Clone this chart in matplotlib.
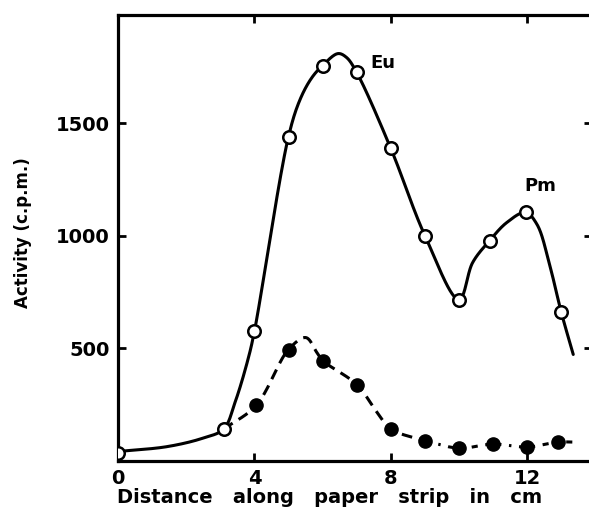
import numpy as np
import matplotlib
matplotlib.use("Agg")
import matplotlib.pyplot as plt

# ---- data ----
# Eu / Pm measured points (open circles)
open_x = [0, 3.1, 4, 5, 6, 7, 8, 9, 10, 10.9, 11.95, 13]
open_y = [33, 140, 575, 1442, 1758, 1727, 1389, 1001, 716, 979, 1104, 659]
# hand-drawn solid curve
solid_x = [0, 1.45, 2.5, 3.1, 3.43, 3.81, 4, 5, 5.34, 5.68, 6, 6.45, 6.7, 7,
           8, 9, 10, 10.4, 10.9, 11.4, 11.95, 12.29, 12.67, 13, 13.35]
solid_y = [40, 62, 100, 140, 258, 449, 575, 1442, 1607, 1703, 1758, 1811, 1794, 1727,
           1389, 1001, 716, 881, 979, 1059, 1104, 1050, 863, 659, 472]

# second series (filled circles)
fill_x = [4.05, 5, 6, 7, 8, 9, 10, 11, 12, 12.9]
fill_y = [245, 494, 445, 338, 140, 87, 55, 73, 60, 82]
# hand-drawn dashed curve
dash_x = [3.1, 4.05, 5, 5.51, 5.83, 6, 7, 7.6, 8, 9]
dash_y = [140, 245, 494, 547, 481, 445, 338, 214, 140, 87]
dot_x = [9, 10, 11, 12, 12.9, 13.35]
dot_y = [87, 55, 73, 60, 82, 82]

x_ticks = [0, 4, 8, 12]
y_ticks = [500, 1000, 1500]
labels = {"Eu": (7.77, 1771), "Pm": (12.38, 1220)}

W, H = 589, 511
left, right, bottom, top = 118, 592, 460.5, 14.5
XMAX, YMAX = 13.9, 1985
SX = (right - left) / XMAX
SY = (bottom - top) / YMAX


def smooth(xs, ys, n=30, alpha=0.5):
    """Centripetal Catmull-Rom rendering of a hand-traced curve (in pixel space)."""
    p = np.column_stack([np.asarray(xs, float) * SX, np.asarray(ys, float) * SY])
    p = np.vstack([2 * p[0] - p[1], p, 2 * p[-1] - p[-2]])
    out = []
    for i in range(1, len(p) - 2):
        P0, P1, P2, P3 = p[i - 1], p[i], p[i + 1], p[i + 2]
        t0 = 0.0
        t1 = t0 + max(np.linalg.norm(P1 - P0), 1e-6) ** alpha
        t2 = t1 + max(np.linalg.norm(P2 - P1), 1e-6) ** alpha
        t3 = t2 + max(np.linalg.norm(P3 - P2), 1e-6) ** alpha
        t = np.linspace(t1, t2, n, endpoint=False)[:, None]
        A1 = (t1 - t) / (t1 - t0) * P0 + (t - t0) / (t1 - t0) * P1
        A2 = (t2 - t) / (t2 - t1) * P1 + (t - t1) / (t2 - t1) * P2
        A3 = (t3 - t) / (t3 - t2) * P2 + (t - t2) / (t3 - t2) * P3
        B1 = (t2 - t) / (t2 - t0) * A1 + (t - t0) / (t2 - t0) * A2
        B2 = (t3 - t) / (t3 - t1) * A2 + (t - t1) / (t3 - t1) * A3
        C = (t2 - t) / (t2 - t1) * B1 + (t - t1) / (t2 - t1) * B2
        out.append(C)
    out.append(p[-2][None, :])
    out = np.vstack(out)
    return out[:, 0] / SX, out[:, 1] / SY


plt.rcParams['font.family'] = ['DejaVu Sans']
fig = plt.figure(figsize=(5.89, 5.11), dpi=100)
ax = fig.add_axes([left / W, (H - bottom) / H, (right - left) / W, (bottom - top) / H])
ax.set_xlim(0, XMAX)
ax.set_ylim(0, YMAX)

sx, sy = smooth(solid_x, solid_y)
ax.plot(sx, sy, color='black', lw=2.2, solid_capstyle='round', zorder=2)
dx, dy = smooth(dash_x, dash_y)
ax.plot(dx, dy, color='black', lw=2.2, linestyle=(0, (3.5, 2.3)), zorder=2)
ox, oy = smooth(dot_x, dot_y)
ax.plot(ox, oy, color='black', lw=2.2, linestyle=(0, (2.0, 2.5, 0.8, 2.5)), zorder=2)

ax.plot(open_x, open_y, linestyle='none', marker='o', ms=9, mfc='white',
        mec='black', mew=1.8, zorder=3)
ax.plot(fill_x, fill_y, linestyle='none', marker='o', ms=9.5, mfc='black',
        mec='black', zorder=3)

for txt, (lx, ly) in labels.items():
    ax.text(lx, ly, txt, fontsize=13, fontweight='bold', ha='center', va='center')

ax.set_xticks(x_ticks)
ax.set_xticklabels([str(v) for v in x_ticks])
ax.set_yticks(y_ticks)
ax.set_yticklabels([str(v) for v in y_ticks])
ax.tick_params(direction='in', length=6, width=2, top=True, right=True,
               labelsize=14, pad=6)
for lab in ax.get_xticklabels() + ax.get_yticklabels():
    lab.set_fontweight('bold')
for s in ax.spines.values():
    s.set_linewidth(2.3)
ax.spines['right'].set_visible(False)

ax.set_xlabel("Distance   along   paper   strip   in   cm", fontsize=14,
              fontweight='bold')
ax.xaxis.set_label_coords((330 - left) / (right - left), -(497 - bottom) / (bottom - top))
ax.set_ylabel("Activity (c.p.m.)", fontsize=12, fontweight='bold')
ax.yaxis.set_label_coords((23 - left) / (right - left), (bottom - 233) / (bottom - top))
ax.xaxis.label.set_va('center')
ax.yaxis.label.set_va('center')

fig.savefig("out.png", dpi=100)
